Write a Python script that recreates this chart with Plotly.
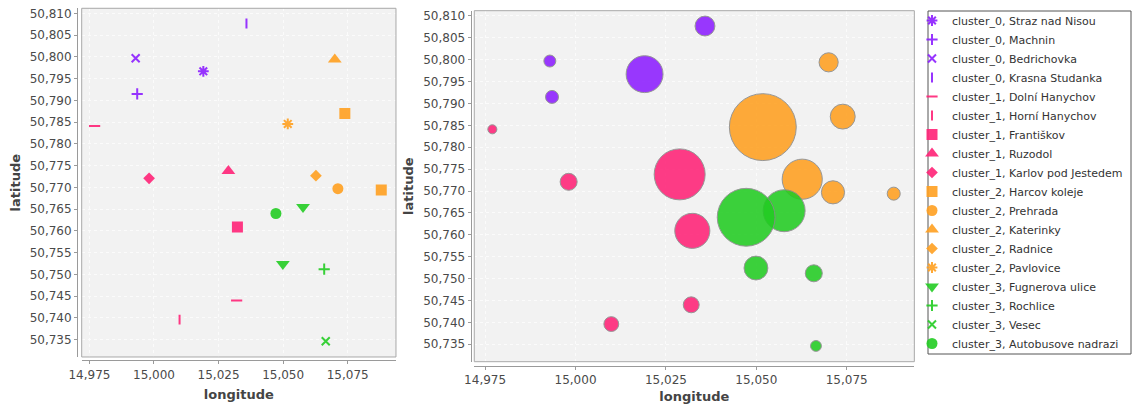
import plotly.graph_objects as go

# ---- data -------------------------------------------------------------
# one entry per legend series: cluster, stop name, marker symbol
series_cluster = [0, 0, 0, 0, 1, 1, 1, 1, 1, 2, 2, 2, 2, 2, 3, 3, 3, 3]
series_name = [
    "Straz nad Nisou", "Machnin", "Bedrichovka", "Krasna Studanka",
    "Dolní Hanychov", "Horní Hanychov", "Františkov", "Ruzodol",
    "Karlov pod Jestedem", "Harcov koleje", "Prehrada", "Katerinky",
    "Radnice", "Pavlovice", "Fugnerova ulice", "Rochlice", "Vesec",
    "Autobusove nadrazi",
]
# longitude / latitude points of each series
series_lon = [
    [15.0191], [14.9935], [14.9929], [15.0358],
    [14.9770, 15.0320], [15.0099], [15.0323], [15.0288], [14.9981],
    [15.0739, 15.0880], [15.0712], [15.0700], [15.0627], [15.0518],
    [15.0577, 15.0499], [15.0659], [15.0665], [15.0472],
]
series_lat = [
    [50.7967], [50.7915], [50.7997], [50.8077],
    [50.7841, 50.7440], [50.7396], [50.7609], [50.7738], [50.7721],
    [50.7870, 50.7694], [50.7697], [50.7994], [50.7727], [50.7846],
    [50.7655, 50.7524], [50.7512], [50.7346], [50.7640],
]
# bubble diameter (in longitude units)
series_z = [
    [0.0102], [0.0036], [0.0033], [0.0055],
    [0.0025, 0.0044], [0.0041], [0.0097], [0.0141], [0.0047],
    [0.0069, 0.0036], [0.0064], [0.0053], [0.0111], [0.0185],
    [0.0116, 0.0066], [0.0047], [0.0030], [0.0160],
]

cluster_colors = ["#8c1eff", "#ff2277", "#ffa020", "#22cc22"]

symbols = [
    "asterisk-open", "cross-thin-open", "x-thin-open", "line-ns-open",
    "line-ew-open", "line-ns-open", "square", "triangle-up", "diamond",
    "square", "circle", "triangle-up", "diamond", "asterisk-open",
    "triangle-down", "cross-thin-open", "x-thin-open", "circle",
]
symbol_size = {
    "asterisk-open": 9, "cross-thin-open": 8, "x-thin-open": 8,
    "line-ns-open": 7, "line-ew-open": 8, "square": 11,
    "triangle-up": 12, "diamond": 9, "circle": 11, "triangle-down": 12,
}

x_range = [14.9720, 15.0937]
y_range = [50.7310, 50.8112]

W, H = 1133, 410
FONT = "DejaVu Sans"
TICK_COLOR = "#4a4a4a"

# ---- figure ------------------------------------------------------------
fig = go.Figure()

# left panel: symbol scatter
for i, name in enumerate(series_name):
    color = cluster_colors[series_cluster[i]]
    sym = symbols[i]
    is_line = sym.endswith("-open")
    fig.add_trace(go.Scatter(
        x=series_lon[i], y=series_lat[i],
        xaxis="x", yaxis="y",
        mode="markers",
        name=f"cluster_{series_cluster[i]}, {name}",
        marker=dict(
            symbol=sym, size=symbol_size[sym], color=color, opacity=0.9,
            line=dict(width=2 if is_line else 0, color=color),
        ),
        hoverinfo="x+y+name",
    ))

# right panel: bubbles sized by z (diameter in x units)
px_right = (0.8070 - 0.4186) * W
sizeref = (x_range[1] - x_range[0]) / px_right
for i, name in enumerate(series_name):
    color = cluster_colors[series_cluster[i]]
    fig.add_trace(go.Scatter(
        x=series_lon[i], y=series_lat[i],
        xaxis="x2", yaxis="y2",
        mode="markers",
        name=f"cluster_{series_cluster[i]}, {name}",
        showlegend=False,
        marker=dict(
            symbol="circle", size=series_z[i], sizemode="diameter",
            sizeref=sizeref, sizemin=1, color=color, opacity=0.88,
            line=dict(width=1, color="#8a8a8a"),
        ),
        hoverinfo="x+y+name",
    ))


def axis_common(**kw):
    d = dict(
        automargin=False,
        showgrid=True, gridcolor="#fbfbfb", griddash="dot", gridwidth=1,
        zeroline=False, showline=True, linecolor="#9a9a9a", linewidth=1,
        ticks="outside", ticklen=3, tickcolor="#9a9a9a",
        tickfont=dict(family=FONT, size=12, color=TICK_COLOR),
        tickformat=".3f",
    )
    d.update(kw)
    return d


title_font = dict(family=FONT, size=13, color="#444444", weight="bold")

fig.update_layout(
    width=W, height=H,
    margin=dict(l=0, r=0, t=0, b=0, autoexpand=False),
    paper_bgcolor="white",
    plot_bgcolor="#f2f2f2",
    separators=", ",
    font=dict(family=FONT, size=11, color="#333333"),
    xaxis=axis_common(
        domain=[0.0721, 0.3495], range=x_range, anchor="free", position=0.121,
        tick0=14.975, dtick=0.025,
        title=dict(text="longitude", font=title_font, standoff=9),
    ),
    yaxis=axis_common(
        domain=[0.1293, 0.9798], range=y_range, anchor="free", position=0.068,
        tick0=50.735, dtick=0.005,
        title=dict(text="latitude", font=title_font, standoff=5),
    ),
    xaxis2=axis_common(
        domain=[0.4186, 0.8070], range=x_range, anchor="free", position=0.108,
        tick0=14.975, dtick=0.025,
        title=dict(text="longitude", font=title_font, standoff=5),
    ),
    yaxis2=axis_common(
        domain=[0.1178, 0.9739], range=y_range, anchor="free", position=0.4154,
        tick0=50.735, dtick=0.005,
        title=dict(text="latitude", font=title_font, standoff=5),
    ),
    legend=dict(
        x=912 / W, y=1 - 6 / H, xanchor="left", yanchor="top",
        bgcolor="rgba(0,0,0,0)", borderwidth=0,
        font=dict(family=FONT, size=11, color="#333333"),
        itemsizing="trace", tracegroupgap=0,
    ),
    showlegend=True,
)

# plot-area frames and legend box
shapes = []
for xd, yd in (("x domain", "y domain"), ("x2 domain", "y2 domain")):
    shapes.append(dict(type="rect", xref=xd, yref=yd, x0=0, x1=1, y0=0, y1=1,
                       line=dict(color="#a8a8a8", width=1), layer="above"))
shapes.append(dict(type="rect", xref="paper", yref="paper",
                   x0=928 / W, x1=1131 / W, y0=1 - 354 / H, y1=1 - 11 / H,
                   line=dict(color="#555555", width=1),
                   fillcolor="white", layer="below"))
fig.update_layout(shapes=shapes)

fig.write_html("out.html")
